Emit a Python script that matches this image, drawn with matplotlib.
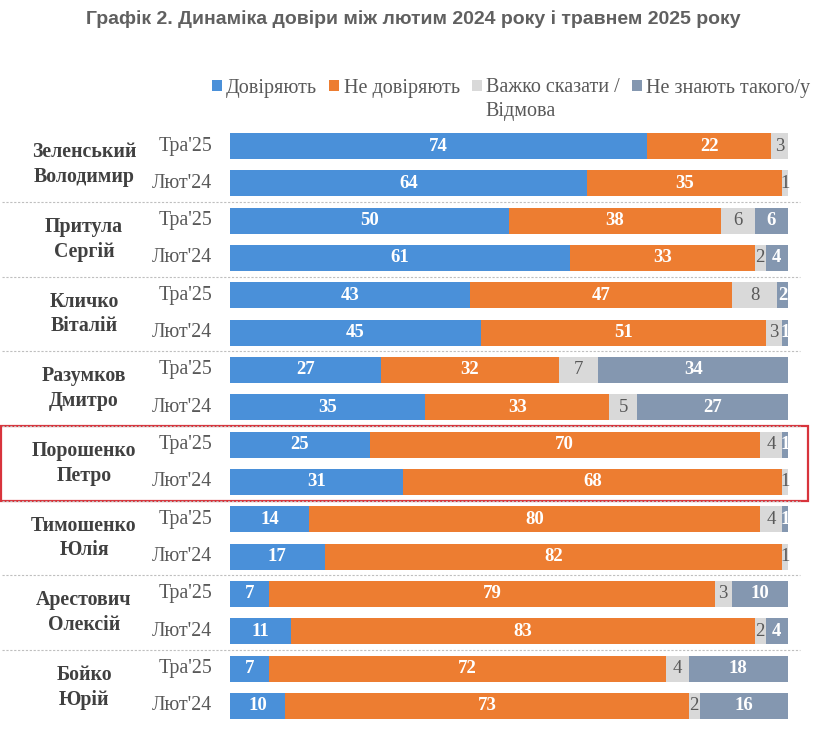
import matplotlib
matplotlib.use("Agg")
import matplotlib.pyplot as plt
from matplotlib.patches import Patch, Rectangle
import numpy as np

names = ["Зеленський\nВолодимир", "Притула\nСергій", "Кличко\nВіталій", "Разумков\nДмитро",
         "Порошенко\nПетро", "Тимошенко\nЮлія", "Арестович\nОлексій", "Бойко\nЮрій"]
periods = ["Тра'25", "Лют'24"]
series = ["Довіряють", "Не довіряють", "Важко сказати /\nВідмова", "Не знають такого/у"]

trust =      [74, 64, 50, 61, 43, 45, 27, 35, 25, 31, 14, 17, 7, 11, 7, 10]
distrust =   [22, 35, 38, 33, 47, 51, 32, 33, 70, 68, 80, 82, 79, 83, 72, 73]
hard =       [3, 1, 6, 2, 8, 3, 7, 5, 4, 1, 4, 1, 3, 2, 4, 2]
unknown =    [0, 0, 6, 4, 2, 1, 34, 27, 1, 0, 1, 0, 10, 4, 18, 16]

colors = ["#4A90D9", "#ED7D31", "#D9D9D9", "#8497B0"]
label_colors = ["white", "white", "#595959", "white"]
label_weights = ["bold", "bold", "normal", "bold"]

W, H = 827, 737
fig = plt.figure(figsize=(W / 100, H / 100), dpi=100)
fig.patch.set_facecolor("white")

n_rows = len(trust)
row_px = 37.33
top_px = 146 - row_px / 2
ax = fig.add_axes([230 / W, 1 - (top_px + n_rows * row_px) / H, 558 / W, n_rows * row_px / H])

data = np.array([trust, distrust, hard, unknown], dtype=float)
totals = data.sum(axis=0)
pct = data / totals * 100
y = np.arange(n_rows)
left = np.zeros(n_rows)
serif = "Liberation Serif"
for k in range(4):
    ax.barh(y, pct[k], left=left, height=0.7, color=colors[k], edgecolor="none")
    for i in range(n_rows):
        v = data[k, i]
        if v > 0:
            ax.text(left[i] + pct[k, i] / 2, y[i], f"{int(v)}", ha="center", va="center",
                    color=label_colors[k], fontweight=label_weights[k], fontsize=13.5,
                    family=serif)
    left += pct[k]

ax.set_xlim(0, 100)
ax.set_ylim(n_rows - 0.5, -0.5)
ax.axis("off")

# period labels
x_to_data = lambda px: (px - 230) / 558 * 100
for i in range(n_rows):
    ax.text(x_to_data(212), y[i], periods[i % 2], ha="right", va="center",
            fontsize=14.3, family=serif, color="#595959")

# group names
for g, nm in enumerate(names):
    ax.text(x_to_data(84), 2 * g + 0.5, nm, ha="center", va="center", fontsize=14.3,
            family=serif, fontweight="bold", color="#404040", linespacing=1.3)

# separators
for g in range(1, len(names)):
    ax.plot([x_to_data(2), x_to_data(800)], [2 * g - 0.5] * 2, ls=(0, (2, 1.5)),
            color="#BFBFBF", lw=0.8, clip_on=False)

# highlight box around Порошенко
hi = 4
ax.add_patch(Rectangle((x_to_data(1), 2 * hi - 0.5), x_to_data(808) - x_to_data(1), 2,
                       fill=False, edgecolor="#D8343C", lw=1.6, clip_on=False))

# title
fig.text(413 / W, 1 - 19 / H, "Графік 2. Динаміка довіри між лютим 2024 року і травнем 2025 року",
         ha="center", va="center", fontsize=14, fontweight="bold", color="#606060",
         family=["Liberation Sans Narrow", "Liberation Sans"])

# legend
handles = [Patch(facecolor=c, edgecolor="none") for c in colors]
leg_labels = [series[0], series[1], series[2].split("\n")[0], series[3]]
leg = fig.legend(handles, leg_labels, loc="center", bbox_to_anchor=(511 / W, 1 - 88 / H), ncol=4,
                 frameon=False, handlelength=0.5, handleheight=0.5, handletextpad=0.2,
                 columnspacing=0.6, prop={"family": serif, "size": 14.5})
for t in leg.get_texts():
    t.set_color("#595959")
fig.canvas.draw()
bb = leg.get_texts()[2].get_window_extent()
fig.text(bb.x0 / W, (bb.y0 - 14) / H, series[2].split("\n")[1], ha="left", va="center",
         fontsize=14.5, family=serif, color="#595959")

fig.savefig("out.png", dpi=100, facecolor="white")
